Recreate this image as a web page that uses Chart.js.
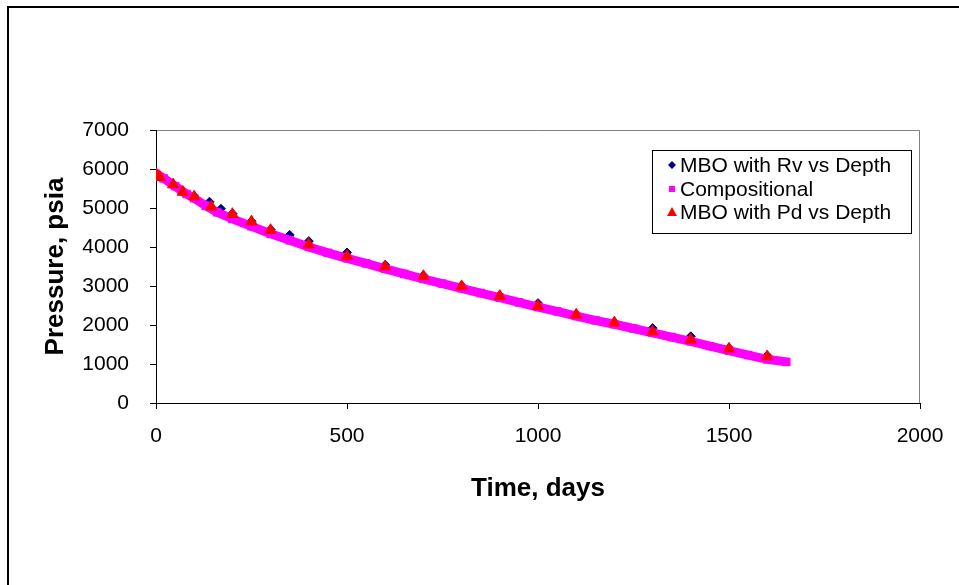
<!DOCTYPE html>
<html>
<head>
<meta charset="utf-8">
<script src="https://cdn.jsdelivr.net/npm/chart.js@4.4.1/dist/chart.umd.min.js"></script>
<style>
    html, body { margin: 0; padding: 0; background: #fff; }
    #wrap { width: 959px; height: 585px; }
</style>
</head>
<body>
<div id="wrap"><canvas id="pressureChart" width="959" height="585"></canvas></div>
<script>
// SERIES DATA
const rvDays = [0, 10, 45, 70, 100, 140, 170, 200, 250, 300, 350, 400, 500, 600, 700, 800, 900, 1000, 1100, 1200, 1300, 1400, 1500, 1600];
const rvPressure = [5900, 5800, 5610, 5420, 5300, 5160, 4980, 4860, 4660, 4450, 4310, 4150, 3860, 3540, 3270, 3010, 2760, 2560, 2280, 2080, 1920, 1710, 1410, 1220];

const compDays = [0, 20, 50, 80, 100, 130, 160, 200, 250, 300, 350, 400, 450, 500, 550, 600, 650, 700, 750, 800, 850, 900, 950, 1000, 1050, 1100, 1150, 1200, 1250, 1300, 1350, 1400, 1450, 1500, 1550, 1600, 1650];
const compPressure = [5880, 5760, 5560, 5360, 5250, 5060, 4890, 4720, 4530, 4340, 4170, 4000, 3850, 3710, 3580, 3440, 3310, 3180, 3060, 2940, 2820, 2700, 2580, 2460, 2350, 2230, 2120, 2020, 1910, 1800, 1690, 1580, 1460, 1340, 1230, 1120, 1055];

const pdDays = [0, 10, 45, 70, 100, 145, 200, 250, 300, 400, 500, 600, 700, 800, 900, 1000, 1100, 1200, 1300, 1400, 1500, 1600];
const pdPressure = [5880, 5790, 5600, 5410, 5290, 5030, 4840, 4650, 4430, 4060, 3760, 3500, 3250, 2990, 2740, 2480, 2260, 2060, 1830, 1620, 1390, 1190];

// TICK LABELS
const xTickValues = [0, 500, 1000, 1500, 2000];
const yTickValues = [0, 1000, 2000, 3000, 4000, 5000, 6000, 7000];

const seriesNames = ["MBO with Rv vs Depth", "Compositional", "MBO with Pd vs Depth"];

const FONT = "'Liberation Sans', Arial, sans-serif";

function toPoints(days, values) {
    return days.map((d, i) => ({ x: d, y: values[i] }));
}

// frame, plot border and legend box
const excelFrame = {
    id: "excelFrame",

    beforeDraw(chart) {
        const ctx = chart.ctx;
        const area = chart.chartArea;

        ctx.save();
        ctx.fillStyle = "#fff";
        ctx.fillRect(0, 0, chart.width, chart.height);

        // outer chart border (runs off the right / bottom)
        ctx.fillStyle = "#000";
        ctx.fillRect(7, 6, chart.width, 2);
        ctx.fillRect(7, 6, 2, chart.height);

        // plot area border, top and right
        ctx.strokeStyle = "#808080";
        ctx.lineWidth = 1;
        ctx.beginPath();
        ctx.moveTo(area.left, area.top + 0.5);
        ctx.lineTo(area.right - 0.5, area.top + 0.5);
        ctx.lineTo(area.right - 0.5, area.bottom);
        ctx.stroke();
        ctx.restore();
    },

    afterDraw(chart) {
        const ctx = chart.ctx;
        const box = { x: 652.5, y: 150.5, w: 259, h: 83 };
        const rowY = [165, 189, 212];
        const markX = 672;

        ctx.save();
        ctx.fillStyle = "#fff";
        ctx.fillRect(box.x, box.y, box.w, box.h);
        ctx.strokeStyle = "#000";
        ctx.lineWidth = 1;
        ctx.strokeRect(box.x, box.y, box.w, box.h);

        ctx.font = "21px " + FONT;
        ctx.textBaseline = "middle";
        ctx.textAlign = "left";

        chart.data.datasets.forEach((ds, i) => {
            const y = rowY[i];
            ctx.fillStyle = ds.pointBackgroundColor;
            ctx.beginPath();
            if (ds.pointStyle === "rectRot") {
                ctx.moveTo(markX, y - 4);
                ctx.lineTo(markX + 4, y);
                ctx.lineTo(markX, y + 4);
                ctx.lineTo(markX - 4, y);
            } else if (ds.pointStyle === "rect") {
                ctx.rect(markX - 3, y - 3, 6, 6);
            } else {
                ctx.moveTo(markX, y - 5);
                ctx.lineTo(markX + 5, y + 4);
                ctx.lineTo(markX - 5, y + 4);
            }
            ctx.closePath();
            ctx.fill();

            ctx.fillStyle = "#000";
            ctx.fillText(ds.label, 680, y + 1);
        });
        ctx.restore();
    }
};

const ctx = document.getElementById("pressureChart").getContext("2d");

new Chart(ctx, {
    type: "scatter",

    data: {
        datasets: [
            {
                label: seriesNames[0],
                data: toPoints(rvDays, rvPressure),
                pointStyle: "rectRot",
                pointRadius: 4.5,
                pointBackgroundColor: "#000080",
                pointBorderColor: "#000080",
                pointBorderWidth: 1,
                showLine: false,
                order: 3
            },
            {
                label: seriesNames[1],
                data: toPoints(compDays, compPressure),
                pointStyle: "rect",
                pointRadius: 6,
                pointBackgroundColor: "#FF00FF",
                pointBorderColor: "#FF00FF",
                pointBorderWidth: 0,
                showLine: true,
                borderColor: "#FF00FF",
                borderWidth: 9,
                borderCapStyle: "butt",
                order: 2
            },
            {
                label: seriesNames[2],
                data: toPoints(pdDays, pdPressure),
                pointStyle: "triangle",
                pointRadius: 6.5,
                pointBackgroundColor: "#FF0000",
                pointBorderColor: "#FF0000",
                pointBorderWidth: 1,
                showLine: false,
                order: 1
            }
        ]
    },

    options: {
        responsive: false,
        animation: false,
        events: [],

        layout: {
            padding: { left: 0, top: 130, right: 39, bottom: 0 }
        },

        plugins: {
            legend: { display: false },
            tooltip: { enabled: false }
        },

        scales: {
            x: {
                type: "linear",
                min: 0,
                max: 2000,
                afterBuildTicks: scale => {
                    scale.ticks = xTickValues.map(v => ({ value: v }));
                },
                afterFit: scale => {
                    scale.height = 182;
                },
                grid: {
                    drawOnChartArea: false,
                    drawTicks: true,
                    tickLength: 6,
                    color: "#000"
                },
                border: { display: true, color: "#000", width: 1 },
                ticks: {
                    color: "#000",
                    padding: 15,
                    maxRotation: 0,
                    font: { family: FONT, size: 21 },
                    callback: value => String(value)
                },
                title: {
                    display: true,
                    text: "Time, days",
                    color: "#000",
                    font: { family: FONT, size: 26, weight: "bold" },
                    padding: { top: 0, bottom: 81 }
                }
            },

            y: {
                type: "linear",
                min: 0,
                max: 7000,
                afterBuildTicks: scale => {
                    scale.ticks = yTickValues.map(v => ({ value: v }));
                },
                afterFit: scale => {
                    scale.width = 156;
                },
                grid: {
                    drawOnChartArea: false,
                    drawTicks: true,
                    tickLength: 6,
                    color: "#000"
                },
                border: { display: true, color: "#000", width: 1 },
                ticks: {
                    color: "#000",
                    padding: 21,
                    font: { family: FONT, size: 21 },
                    callback: value => String(value)
                },
                title: {
                    display: true,
                    text: "Pressure, psia",
                    color: "#000",
                    font: { family: FONT, size: 26, weight: "bold" },
                    padding: { top: 40, bottom: 0 }
                }
            }
        }
    },

    plugins: [excelFrame]
});
</script>
</body>
</html>
